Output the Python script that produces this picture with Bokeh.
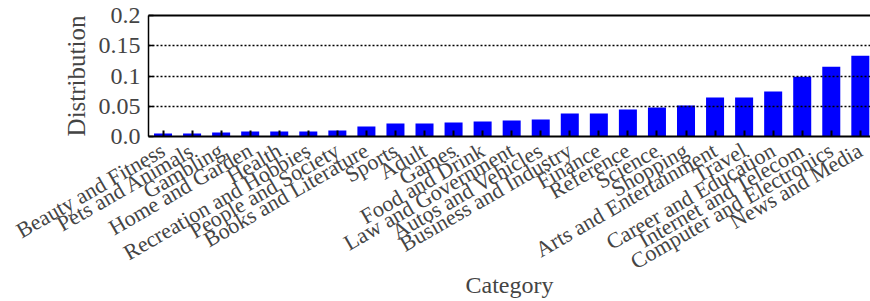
import math
from bokeh.plotting import figure
from bokeh.models import Range1d, FixedTicker, LinearAxis, ColumnDataSource
from bokeh.embed import file_html
from bokeh.resources import INLINE

categories = [
    "Beauty and Fitness", "Pets and Animals", "Gambling", "Home and Garden",
    "Health", "Recreation and Hobbies", "People and Society", "Books and Literature",
    "Sports", "Adult", "Games", "Food and Drink", "Law and Government",
    "Autos and Vehicles", "Business and Industry", "Finance", "Reference",
    "Science", "Shopping", "Arts and Entertainment", "Travel",
    "Career and Education", "Internet and Telecom", "Computer and Electronics",
    "News and Media",
]
values = [
    0.005, 0.005, 0.0066, 0.0082, 0.0082, 0.0082, 0.0099, 0.0165, 0.0214,
    0.0214, 0.0231, 0.0247, 0.0264, 0.028, 0.038, 0.038, 0.0445, 0.0478,
    0.0511, 0.0643, 0.0643, 0.0742, 0.0989, 0.1154, 0.1335,
]
y_ticks = [0.0, 0.05, 0.1, 0.15, 0.2]
y_tick_labels = ["0.0", "0.05", "0.1", "0.15", "0.2"]

FONT = "Liberation Serif"
positions = list(range(len(categories)))
src = ColumnDataSource(dict(x=positions, top=values, cat=categories))

p = figure(
    frame_width=722, frame_height=121,
    x_range=Range1d(-0.5, 24.35), y_range=Range1d(0, 0.2),
    output_backend="svg", toolbar_location=None,
    min_border_left=148, min_border_right=0, min_border_top=15, min_border_bottom=10,
)
p.outline_line_color = None
p.background_fill_color = "white"

p.vbar(x="x", top="top", width=0.62, source=src, fill_color="#0000FF", line_color=None)

# bottom axis
xa = p.xaxis[0]
xa.ticker = FixedTicker(ticks=positions)
xa.major_label_overrides = {i: c for i, c in zip(positions, categories)}
xa.major_label_orientation = math.pi / 6
xa.major_tick_in = 6
xa.major_tick_out = 0
xa.major_tick_line_width = 2
xa.minor_tick_line_color = None
xa.axis_line_width = 2
xa.major_label_text_font = FONT
xa.major_label_text_font_size = "22px"
xa.major_label_standoff = 12
xa.axis_label = "Category"
xa.axis_label_text_font = FONT
xa.axis_label_text_font_size = "24px"
xa.axis_label_text_font_style = "normal"
xa.axis_label_standoff = -16

ya = p.yaxis[0]
ya.ticker = FixedTicker(ticks=y_ticks)
ya.major_label_overrides = {t: l for t, l in zip(y_ticks, y_tick_labels)}
ya.major_tick_in = 5
ya.major_tick_out = 0
ya.major_tick_line_width = 1.5
ya.minor_tick_line_color = None
ya.axis_line_width = 1.5
ya.major_label_text_font = FONT
ya.major_label_text_font_size = "24px"
ya.major_label_standoff = 8
ya.axis_label = "Distribution"
ya.axis_label_text_font = FONT
ya.axis_label_text_font_size = "25px"
ya.axis_label_text_font_style = "normal"
ya.axis_label_standoff = 6

top_axis = LinearAxis(ticker=FixedTicker(ticks=[]), axis_line_width=2,
                      major_tick_line_color=None, minor_tick_line_color=None,
                      major_label_text_font_size="0px")
p.add_layout(top_axis, "above")

p.xgrid.grid_line_color = None
p.ygrid.ticker = FixedTicker(ticks=y_ticks[1:-1])
p.ygrid.grid_line_color = "black"
p.ygrid.grid_line_width = 1.5
p.ygrid.grid_line_dash = "2 2"
p.ygrid.level = "overlay"

open("out.html", "w").write(file_html(p, INLINE))
